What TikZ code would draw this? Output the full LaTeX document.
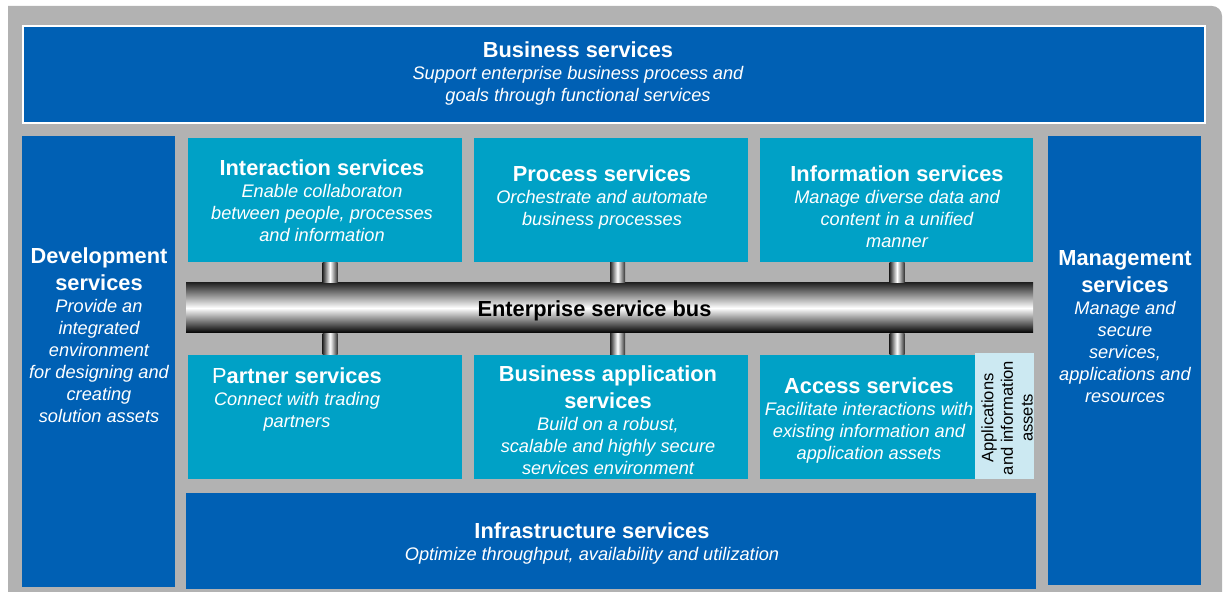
\documentclass[tikz,border=0pt]{standalone}
\usepackage{fontspec}
\setmainfont{Liberation Sans}
\usetikzlibrary{calc,fit}

\definecolor{soadark}{RGB}{0,96,180}
\definecolor{soateal}{RGB}{0,161,198}
\definecolor{soapale}{RGB}{204,233,242}
\definecolor{soagray}{RGB}{178,178,178}

% bold heading inside a caption
\newcommand{\ttl}[1]{{\fontsize{10.9}{11}\selectfont\bfseries\upshape #1}}

\tikzset{
  layer/.style={fill=soadark, draw=none, inner sep=0pt},
  svc/.style={fill=soateal, draw=none, inner sep=0pt},
  caption/.style={text=white, align=center, inner sep=0pt, anchor=north,
    font=\fontsize{9.1}{11}\selectfont\itshape},
  pipe/.style={left color=black!85, right color=black!80, middle color=white},
}

\begin{document}
\begin{tikzpicture}[x=0.5pt,y=-0.5pt]
\useasboundingbox (0,0) rectangle (1223,592);

% --- grey frame
\fill[soagray] (8,592) -- (8,6) [rounded corners=5pt] -- (1222,6) [sharp corners] -- (1222,592) -- cycle;

% --- outer layers
\node[layer, draw=white, line width=0.6pt, fit={(23,26) (1205,123)}] (biz) {};
\node[layer, fit={(22,136) (175,587)}] (dev) {};
\node[layer, fit={(1048,136) (1201,585)}] (mgmt) {};
\node[layer, fit={(186,493) (1036,589)}] (infra) {};

% --- services above the bus
\node[svc, fit={(188,138) (462,262)}] (inter) {};
\node[svc, fit={(474,138) (748,262)}] (proc) {};
\node[svc, fit={(760,138) (1033,262)}] (info) {};

% --- services below the bus
\node[svc, fit={(188,355) (462,479)}] (partner) {};
\node[svc, fit={(474,355) (748,479)}] (bizapp) {};
\node[svc, fit={(760,355) (1033,479)}] (access) {};
\node[fill=soapale, inner sep=0pt, fit={(975,353) (1034,479)}] (assets) {};

% --- the bus itself
\node[inner sep=0pt, top color=black!85, bottom color=black, middle color=white,
  fit={(186,283) (1033,333)}] (bus) {};

% --- pipes between services and bus
\foreach \px/\up/\dn [count=\i] in {330/inter/partner, 617.5/proc/bizapp, 897/info/access}{
  \coordinate (p\i) at (\px,0);
  \shade[pipe] ($(p\i |- \up.south)+(-7.5,0)$) rectangle ($(p\i |- bus.north)+(7.5,0)$);
  \shade[pipe] ($(p\i |- bus.south)+(-7.5,0)$) rectangle ($(p\i |- \dn.north)+(7.5,0)$);
}

% --- captions
\node[caption] (biz-t) at (578,41) {\ttl{Business services}\\Support enterprise business process and\\goals through functional services};
\node[caption] (dev-t) at (99,247) {\ttl{Development}\\[2.5pt]\ttl{services}\\Provide an\\integrated\\environment\\for designing and\\creating\\solution assets};
\node[caption] (mgmt-t) at (1125,250) {\ttl{Management}\\[2.5pt]\ttl{services}\\Manage and\\secure\\services,\\applications and\\resources};
\node[caption] (inter-t) at (322,159) {\ttl{Interaction services}\\Enable collaboraton\\between people, processes\\and information};
\node[caption] (proc-t) at (602,165) {\ttl{Process services}\\Orchestrate and automate\\business processes};
\node[caption] (info-t) at (897,165) {\ttl{Information services}\\Manage diverse data and\\content in a unified\\manner};
\node[caption] (partner-t) at (297,367) {\ttl{{\mdseries P}artner services}\\Connect with trading\\partners};
\node[caption] (bizapp-t) at (608,365) {\ttl{Business application}\\[2.5pt]\ttl{services}\\Build on a robust,\\scalable and highly secure\\services environment};
\node[caption] (access-t) at (869,377) {\ttl{Access services}\\Facilitate interactions with\\existing information and\\application assets};
\node[caption] (infra-t) at (592,522) {\ttl{Infrastructure services}\\Optimize throughput, availability and utilization};

\node[anchor=base, inner sep=0pt, font=\fontsize{10.9}{11}\selectfont\bfseries] (bus-t) at (594.5,317) {Enterprise service bus};
\node[rotate=90, align=center, inner sep=0pt, font=\fontsize{8.3}{9.8}\selectfont] (assets-t) at (1007,418) {Applications\\and information\\assets};

\end{tikzpicture}
\end{document}
